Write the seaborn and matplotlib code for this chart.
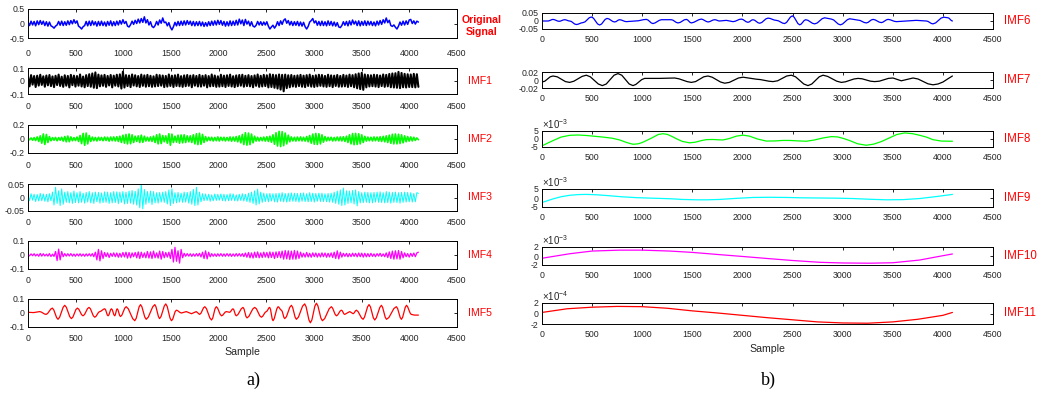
import numpy as np
import matplotlib
matplotlib.use("Agg")
import matplotlib.pyplot as plt
import seaborn as sns

# ---------------------------------------------------------------- data
N_SAMPLES = 4096

# densely sampled components (one value every 16 samples)
original_signal = [
    0.05, -0.07, 0.08, -0.05, 0.07, -0.08, 0.09, -0.04, 0.10, -0.03, 0.08, -0.07, 0.06, -0.09, 0.05, -0.08,
    -0.11, -0.16, -0.09, -0.05, 0.07, -0.06, 0.08, -0.07, 0.06, -0.06, 0.09, -0.04, 0.10, -0.01, 0.13, 0.01,
    0.09, -0.09, -0.13, -0.19, -0.11, -0.07, 0.07, -0.08, 0.08, -0.07, 0.09, -0.05, 0.06, -0.09, 0.07, -0.07,
    0.08, -0.07, 0.05, -0.09, 0.07, -0.06, 0.09, -0.08, 0.06, -0.07, 0.08, -0.05, 0.10, -0.02, 0.13, 0.00,
    0.07, -0.09, -0.12, -0.04, 0.08, -0.03, 0.11, 0.00, 0.15, 0.02, 0.17, 0.04, 0.23, 0.02, 0.13, -0.05,
    0.06, -0.10, -0.14, -0.07, 0.07, -0.05, 0.12, 0.01, 0.19, 0.03, 0.05, -0.08, 0.03, -0.13, -0.22, -0.11,
    0.04, -0.08, 0.07, -0.07, 0.08, -0.06, 0.09, -0.05, 0.10, -0.03, 0.08, -0.07, 0.07, -0.08, 0.06, -0.07,
    0.07, -0.08, 0.05, -0.10, 0.03, -0.09, 0.06, -0.07, 0.08, -0.06, 0.09, -0.05, 0.11, -0.03, 0.10, -0.06,
    0.07, -0.09, 0.06, -0.08, 0.09, -0.07, 0.08, -0.06, 0.11, -0.05, 0.15, -0.01, 0.12, -0.07, 0.14, -0.02,
    0.08, -0.08, 0.06, -0.09, -0.12, -0.06, 0.07, -0.05, 0.06, -0.06, 0.05, -0.05, 0.06, -0.09, -0.19, -0.12,
    -0.06, -0.16, -0.08, 0.06, -0.07, 0.09, -0.03, 0.11, 0.16, 0.01, 0.10, -0.05, 0.07, -0.07, 0.06, -0.06,
    0.07, -0.08, 0.05, -0.09, 0.04, -0.11, -0.19, -0.10, 0.05, 0.10, 0.17, 0.02, 0.09, -0.06, 0.07, -0.07,
    0.08, -0.07, 0.06, -0.08, 0.09, -0.06, 0.07, -0.08, 0.05, -0.09, 0.03, -0.12, -0.14, -0.07, 0.06, -0.06,
    0.07, -0.08, 0.09, -0.05, 0.12, -0.02, 0.08, -0.07, 0.09, -0.08, 0.07, -0.06, 0.09, -0.07, 0.08, -0.05,
    0.07, -0.07, 0.05, -0.08, 0.08, -0.05, 0.10, -0.03, 0.13, 0.02, 0.19, 0.03, 0.11, -0.07, -0.10, -0.05,
    -0.13, -0.19, -0.09, 0.05, -0.06, 0.08, -0.05, 0.09, -0.03, 0.12, 0.14, 0.00, 0.09, -0.02, 0.08, 0.05,
]

imf1 = [
    .032, -.041, .045, -.028, .038, -.046, .041, -.035, .048, -.030, .036, -.044, .042, -.033, .046, -.039,
    .035, -.047, .040, -.031, .049, -.038, .033, -.045, .044, -.036, .039, -.049, .047, -.032, .041, -.043,
    .038, -.036, .050, -.042, .034, -.048, .045, -.039, .052, -.044, .058, -.052, .066, -.055, .049, -.041,
    .043, -.037, .047, -.045, .039, -.034, .046, -.049, .041, -.036, .048, -.042, .051, -.058, .072, -.050,
    .045, -.039, .042, -.047, .050, -.035, .044, -.041, .038, -.046, .049, -.037, .043, -.044, .047, -.040,
    .040, -.045, .036, -.042, .048, -.039, .045, -.036, .042, -.047, .039, -.043, .050, -.038, .041, -.046,
    .044, -.038, .049, -.041, .037, -.045, .043, -.040, .046, -.037, .041, -.048, .045, -.036, .039, -.042,
    .047, -.043, .040, -.036, .045, -.049, .038, -.041, .050, -.039, .042, -.045, .036, -.043, .048, -.040,
    .041, -.046, .044, -.038, .049, -.042, .037, -.047, .043, -.040, .046, -.036, .048, -.044, .040, -.039,
    .045, -.041, .038, -.048, .043, -.037, .050, -.045, .040, -.042, .047, -.039, .044, -.049, .052, -.046,
    .048, -.052, .045, -.058, .050, -.066, .047, -.079, .049, -.055, .044, -.048, .046, -.042, .040, -.045,
    .043, -.039, .047, -.044, .041, -.047, .045, -.038, .049, -.043, .040, -.046, .044, -.041, .048, -.037,
    .046, -.042, .039, -.045, .048, -.040, .043, -.047, .041, -.038, .046, -.044, .039, -.043, .047, -.041,
    .042, -.046, .049, -.040, .045, -.048, .052, -.056, .058, -.062, .063, -.068, .050, -.049, .046, -.042,
    .044, -.040, .048, -.043, .046, -.047, .042, -.039, .050, -.045, .047, -.041, .054, -.048, .058, -.050,
    .060, -.052, .070, -.055, .062, -.048, .055, -.050, .052, -.046, .050, -.047, .055, -.049, .052, -.045,
]

imf2 = [
    .010, -.012, .015, -.018, .020, -.022, .030, -.035, .045, -.060, .072, -.078, .065, -.050, .035, -.025,
    .020, -.018, .022, -.025, .020, -.018, .025, -.030, .035, -.040, .042, -.038, .030, -.025, .020, -.022,
    .028, -.035, .050, -.065, .080, -.090, .085, -.070, .050, -.035, .028, -.025, .022, -.028, .025, -.020,
    .022, -.025, .028, -.022, .025, -.030, .028, -.025, .030, -.028, .032, -.035, .040, -.050, .055, -.060,
    .065, -.070, .072, -.068, .060, -.050, .040, -.035, .045, -.050, .055, -.048, .040, -.030, .025, -.030,
    .030, -.035, .040, -.050, .060, -.070, .072, -.065, .050, -.040, .045, -.060, .075, -.090, .070, -.050,
    .040, -.045, .055, -.060, .058, -.055, .060, -.050, .045, -.040, .045, -.050, .060, -.070, .075, -.080,
    .082, -.075, .065, -.050, .035, -.028, .025, -.022, .025, -.028, .022, -.025, .030, -.028, .025, -.022,
    .025, -.028, .022, -.025, .030, -.032, .028, -.030, .035, -.040, .045, -.055, .065, -.080, .090, -.088,
    .085, -.080, .070, -.055, .040, -.030, .025, -.028, .022, -.025, .028, -.030, .032, -.035, .040, -.045,
    .060, -.075, .090, -.100, .110, -.108, .105, -.095, .085, -.070, .055, -.040, .030, -.028, .025, -.030,
    .028, -.025, .030, -.028, .025, -.030, .035, -.040, .050, -.060, .070, -.075, .080, -.078, .075, -.070,
    .060, -.045, .035, -.028, .025, -.022, .025, -.028, .022, -.025, .028, -.025, .030, -.028, .032, -.035,
    .040, -.050, .060, -.070, .078, -.082, .080, -.078, .075, -.070, .060, -.050, .038, -.030, .028, -.025,
    .025, -.028, .030, -.025, .028, -.030, .032, -.035, .038, -.040, .045, -.050, .055, -.062, .068, -.070,
    .072, -.070, .068, -.065, .060, -.055, .045, -.040, .035, -.030, .030, -.028, .025, -.020, .015, -.010,
]

imf3 = [
    .010, -.012, .014, -.010, .012, -.015, .011, -.013, .015, -.012, .013, -.014, .012, -.016, .014, -.012,
    .020, -.028, .038, -.022, .025, -.030, .032, -.025, .020, -.018, .022, -.020, .018, -.022, .024, -.019,
    .018, -.020, .022, -.018, .016, -.021, .019, -.017, .022, -.020, .018, -.022, .020, -.016, .019, -.021,
    .017, -.019, .021, -.018, .020, -.022, .018, -.020, .022, -.019, .021, -.023, .020, -.018, .022, -.024,
    .020, -.022, .024, -.021, .026, -.025, .023, -.028, .032, -.038, .050, -.042, .030, -.025, .022, -.020,
    .024, -.026, .022, -.020, .018, -.021, .019, -.017, .020, -.018, .022, -.024, .028, -.030, .032, -.022,
    .018, -.020, .019, -.017, .016, -.018, .020, -.017, .019, -.021, .022, -.025, .030, -.030, .038, -.028,
    .020, -.016, .014, -.012, .013, -.011, .012, -.014, .010, -.012, .013, -.011, .012, -.010, .013, -.012,
    .012, -.013, .011, -.012, .014, -.011, .013, -.012, .010, -.013, .012, -.011, .014, -.013, .012, -.015,
    .016, -.018, .020, -.022, .025, -.028, .031, -.024, .020, -.018, .016, -.015, .014, -.016, .015, -.013,
    .014, -.016, .015, -.017, .016, -.014, .018, -.016, .015, -.017, .016, -.015, .017, -.014, .016, -.015,
    .015, -.017, .016, -.014, .017, -.015, .014, -.016, .018, -.015, .016, -.017, .015, -.014, .016, -.015,
    .016, -.015, .014, -.016, .015, -.017, .016, -.018, .020, -.022, .024, -.025, .028, -.030, .035, -.028,
    .025, -.022, .024, -.020, .026, -.024, .028, -.031, .022, -.020, .018, -.019, .020, -.018, .019, -.020,
    .018, -.020, .019, -.017, .020, -.018, .021, -.019, .018, -.020, .022, -.019, .020, -.021, .019, -.018,
    .020, -.019, .018, -.021, .019, -.018, .020, -.017, .019, -.016, .018, -.017, .015, -.016, .018, .015,
]

imf4 = [
    .004, -.006, .008, -.005, .009, -.007, .006, -.009, .011, -.008, .009, -.007, .006, -.008, .010, -.011,
    .006, -.010, .025, -.040, .042, -.035, .025, -.012, .010, -.008, .009, -.007, .010, -.008, .007, -.009,
    .008, -.007, .009, -.008, .007, -.009, .008, -.007, .009, -.008, .010, -.012, .020, -.035, .040, -.042,
    .030, -.025, .018, -.012, .015, -.018, .012, -.010, .015, -.012, .014, -.016, .012, -.015, .018, -.014,
    .020, -.022, .018, -.020, .015, -.012, .018, -.020, .022, -.025, .020, -.018, .015, -.020, .025, -.022,
    .022, -.025, .028, -.020, .015, -.022, .028, -.030, .025, -.020, .018, -.015, .020, -.025, .040, -.050,
    .055, -.045, .030, -.058, .040, -.020, .012, -.009, .010, -.008, .009, -.010, .008, -.009, .010, -.008,
    .012, -.014, .020, -.025, .030, -.028, .020, -.013, .010, -.009, .008, -.010, .009, -.008, .010, -.009,
    .008, -.009, .010, -.008, .009, -.010, .008, -.009, .010, -.008, .010, -.009, .010, -.012, .014, -.016,
    .018, -.020, .015, -.022, .020, -.018, .022, -.020, .015, -.018, .020, -.015, .018, -.020, .022, -.018,
    .020, -.025, .022, -.018, .025, -.020, .028, -.030, .032, -.028, .030, -.032, .028, -.030, .032, -.030,
    .028, -.025, .020, -.015, .012, -.015, .018, -.014, .012, -.016, .015, -.012, .014, -.015, .012, -.014,
    .015, -.012, .014, -.016, .012, -.014, .015, -.018, .020, -.025, .030, -.028, .020, -.015, .012, -.010,
    .012, -.013, .010, -.012, .013, -.010, .012, -.013, .014, -.012, .013, -.015, .012, -.013, .010, -.012,
    .012, -.010, .008, -.012, .010, -.008, .012, -.010, .008, -.012, .015, -.018, .022, -.025, .028, -.030,
    .030, -.028, .032, -.030, .025, -.020, .015, -.012, .010, -.015, .012, -.010, .014, -.012, .015, .020,
]

# slower components: (sample index, value) pairs along the curve
imf5_points = [
    (0, .005), (60, .003), (122, .01), (139, .007), (173, -.007), (190, -.01), (206, -.003), (239, .028),
    (255, .035), (270, .023), (300, -.033), (315, -.045), (332, -.03), (368, .04), (385, .055), (402, .041),
    (438, -.026), (455, -.04), (471, -.029), (502, .024), (518, .035), (533, .027), (562, -.012), (577, -.02),
    (593, -.011), (624, .031), (640, .04), (655, .03), (685, -.02), (700, -.03), (713, -.024), (739, .004),
    (752, .01), (765, .013), (792, .027), (805, .03), (814, .023), (831, -.013), (840, -.02), (849, -.013),
    (866, .023), (875, .03), (884, .023), (901, -.013), (910, -.02), (916, -.013), (929, .023), (935, .03),
    (944, .022), (961, -.017), (970, -.025), (985, -.015), (1015, .035), (1030, .045), (1052, .03),
    (1098, -.04), (1120, -.055), (1135, -.038), (1165, .043), (1180, .06), (1195, .044), (1225, -.029),
    (1240, -.045), (1262, -.029), (1308, .044), (1330, .06), (1342, .045), (1368, -.025), (1380, -.04),
    (1396, -.024), (1429, .049), (1445, .065), (1460, .047), (1490, -.037), (1505, -.055), (1518, -.044),
    (1543, .009), (1556, .02), (1569, .017), (1596, .003), (1610, 0), (1660, .01), (1715, -.005),
    (1765, .01), (1800, -.01), (1814, -.002), (1841, .037), (1855, .045), (1872, .031), (1908, -.036),
    (1925, -.05), (1938, -.036), (1962, .031), (1975, .045), (1989, .035), (2016, -.01), (2030, -.02),
    (2042, -.016), (2068, .006), (2080, .01), (2115, .005), (2124, .009), (2141, .026), (2150, .03),
    (2159, .023), (2176, -.013), (2185, -.02), (2202, -.011), (2238, .031), (2255, .04), (2266, .029),
    (2286, -.024), (2297, -.035), (2317, -.024), (2358, .029), (2378, .04), (2396, .03), (2431, -.02),
    (2448, -.03), (2461, -.024), (2487, .004), (2500, .01), (2509, .015), (2526, .036), (2535, .04),
    (2544, .026), (2561, -.041), (2570, -.055), (2583, -.04), (2610, .03), (2623, .045), (2632, .041),
    (2649, .024), (2658, .02), (2667, .011), (2684, -.031), (2693, -.04), (2711, -.026), (2746, .041),
    (2763, .055), (2776, .04), (2802, -.03), (2815, -.045), (2837, -.029), (2880, .049), (2902, .065),
    (2917, .045), (2947, -.05), (2962, -.07), (2978, -.049), (3009, .049), (3025, .07), (3041, .051),
    (3072, -.036), (3088, -.055), (3112, -.04), (3159, .03), (3182, .045), (3195, .035), (3222, -.01),
    (3235, -.02), (3248, -.014), (3274, .014), (3287, .02), (3296, .016), (3313, -.006), (3322, -.01),
    (3375, .01), (3410, -.005), (3419, -.001), (3436, .016), (3445, .02), (3462, .01), (3498, -.035),
    (3515, -.045), (3530, -.029), (3562, .044), (3577, .06), (3592, .044), (3622, -.034), (3637, -.05),
    (3654, -.034), (3690, .039), (3707, .055), (3720, .04), (3747, -.03), (3760, -.045), (3786, -.032),
    (3838, .032), (3864, .045), (3877, .032), (3904, -.032), (3917, -.045), (3930, -.03), (3957, .04),
    (3970, .055), (3982, .045), (4008, 0), (4020, -.01), (4055, -.015), (4095, -.015),
]

imf6_points = [
    (0, 0), (60, 0), (72, .0015), (98, .0085), (110, .01), (125, .008), (155, 0), (170, -.002),
    (184, -.0005), (212, .0065), (226, .008), (238, .007), (264, .001), (276, 0), (293, -.003),
    (326, -.019), (343, -.022), (360, -.020), (392, -.012), (409, -.01), (430, -.005), (471, .02),
    (492, .025), (513, .018), (554, -.018), (575, -.025), (594, -.019), (630, .010), (649, .016),
    (668, .013), (706, -.003), (725, -.006), (738, -.004), (762, .006), (775, .008), (792, .006),
    (824, -.002), (841, -.004), (935, 0), (962, .0015), (1014, .0085), (1041, .01), (1058, .006),
    (1090, -.012), (1107, -.016), (1128, -.012), (1170, .004), (1191, .008), (1290, .008), (1307, .005),
    (1340, -.009), (1357, -.012), (1378, -.009), (1419, .007), (1440, .01), (1452, .007), (1478, -.009),
    (1490, -.012), (1515, -.008), (1565, .008), (1590, .012), (1606, .009), (1640, -.003), (1656, -.006),
    (1673, -.004), (1706, .006), (1723, .008), (1735, .007), (1760, .001), (1773, 0), (1839, .004),
    (1906, -.004), (1927, -.0016), (1968, .0096), (1989, .012), (2006, .009), (2038, -.005), (2055, -.008),
    (2068, -.0056), (2092, .0056), (2105, .008), (2122, .0047), (2155, -.0107), (2172, -.014),
    (2193, -.0092), (2234, .0132), (2255, .018), (2276, .016), (2317, .006), (2338, .004), (2359, .001),
    (2400, -.013), (2421, -.016), (2440, -.0088), (2479, .0248), (2498, .032), (2516, .0236),
    (2553, -.0156), (2571, -.024), (2586, -.0192), (2616, .0032), (2631, .008), (2654, .0041),
    (2698, -.0141), (2721, -.018), (2746, -.0123), (2795, .0143), (2820, .02), (2887, .012), (2910, .0066),
    (2955, -.0186), (2977, -.024), (3000, -.0183), (3047, .0083), (3070, .014), (3153, .006), (3174, .0033),
    (3215, -.0093), (3236, -.012), (3253, -.0087), (3286, .0067), (3303, .01), (3324, .007), (3365, -.007),
    (3386, -.01), (3402, -.007), (3436, .007), (3452, .01), (3473, .0079), (3515, -.0019), (3536, -.004),
    (3635, 0), (3735, .004), (3835, 0), (3852, -.0027), (3884, -.0153), (3901, -.018), (3928, -.0117),
    (3981, .0177), (4008, .024), (4051, .02), (4062, .017), (4084, .003), (4095, 0),
]

imf7_points = [
    (0, -.005), (28, -.003), (82, .008), (110, .01), (152, .008), (234, -.004), (276, -.006), (318, -.003),
    (400, .009), (442, .012), (482, .008), (562, -.010), (602, -.014), (641, -.01), (719, .012), (758, .016),
    (796, .012), (870, -.01), (908, -.014), (937, -.011), (995, .001), (1024, .004), (1174, .004),
    (1324, .005), (1366, .003), (1448, -.004), (1490, -.006), (1532, -.004), (1614, .008), (1656, .01),
    (1698, .007), (1781, -.005), (1823, -.008), (1869, -.006), (1960, .005), (2006, .007), (2139, .002),
    (2180, .001), (2264, -.003), (2305, -.004), (2351, -.002), (2442, .01), (2488, .012), (2530, .008),
    (2612, -.01), (2654, -.014), (2692, -.01), (2766, .008), (2804, .012), (2850, .009), (2941, -.003),
    (2987, -.006), (3028, -.0045), (3112, .0025), (3153, .004), (3194, .003), (3278, -.003), (3319, -.004),
    (3365, -.003), (3456, .004), (3502, .005), (3585, -.002), (3702, .005), (3752, .0025), (3851, -.0095),
    (3901, -.012), (3951, -.010), (4001, -.005), (4050, .003), (4095, .01),
]

imf8_points = [
    (0, -4.3e-3), (55, -2.6e-3), (110, -1.0e-3), (190, 1.2e-3), (276, 2.3e-3), (360, 2.5e-3),
    (442, 2.2e-3), (525, 1.7e-3), (609, 1.2e-3), (700, 0.5e-3), (775, -0.6e-3), (845, -2.2e-3),
    (908, -3.3e-3), (960, -3.0e-3), (1000, -2.2e-3), (1041, -1.0e-3), (1100, 0.8e-3), (1160, 2.8e-3),
    (1207, 3.3e-3), (1250, 2.9e-3), (1300, 1.5e-3), (1340, 0.2e-3), (1400, -1.5e-3), (1473, -2.4e-3),
    (1530, -2.0e-3), (1590, -1.0e-3), (1640, -0.4e-3), (1700, -0.3e-3), (1760, -0.5e-3), (1806, -0.6e-3),
    (1870, 0.3e-3), (1940, 1.8e-3), (2006, 2.4e-3), (2070, 1.8e-3), (2150, 0.0), (2238, -1.3e-3),
    (2330, -1.2e-3), (2400, -0.9e-3), (2471, -0.9e-3), (2560, -1.2e-3), (2638, -1.4e-3), (2720, -0.6e-3),
    (2800, 0.6e-3), (2887, 1.5e-3), (2950, 1.3e-3), (3010, 0.3e-3), (3070, -1.0e-3), (3150, -3.0e-3),
    (3236, -3.9e-3), (3310, -3.2e-3), (3386, -1.6e-3), (3460, 0.5e-3), (3540, 2.8e-3), (3619, 3.8e-3),
    (3700, 3.3e-3), (3770, 2.3e-3), (3835, 1.2e-3), (3900, -0.4e-3), (3985, -1.3e-3), (4095, -1.4e-3),
]

imf9_points = [
    (0, -2.5e-3), (55, -1.5e-3), (110, -0.5e-3), (190, 0.7e-3), (276, 1.5e-3), (360, 1.9e-3),
    (442, 2.0e-3), (540, 1.8e-3), (642, 1.4e-3), (790, 0.7e-3), (941, 0.2e-3), (1100, -0.1e-3),
    (1274, -0.4e-3), (1400, -0.8e-3), (1540, -1.0e-3), (1650, -1.0e-3), (1773, -0.8e-3), (1940, -0.2e-3),
    (2105, 0.3e-3), (2270, 0.4e-3), (2438, 0.3e-3), (2600, 0.1e-3), (2771, 0.0), (2940, -0.1e-3),
    (3103, -0.3e-3), (3270, -0.7e-3), (3436, -1.0e-3), (3602, -0.9e-3), (3768, -0.3e-3), (3935, 0.8e-3),
    (4095, 2.0e-3),
]

imf10_points = [
    (0, -0.5e-3), (276, 0.5e-3), (500, 1.1e-3), (775, 1.3e-3), (1000, 1.3e-3), (1274, 1.1e-3),
    (1500, 0.8e-3), (1773, 0.3e-3), (2000, -0.1e-3), (2272, -0.6e-3), (2500, -1.0e-3), (2771, -1.4e-3),
    (3000, -1.55e-3), (3270, -1.6e-3), (3500, -1.5e-3), (3768, -0.9e-3), (3935, -0.2e-3), (4095, 0.45e-3),
]

imf11_points = [
    (0, 0.2e-4), (250, 0.9e-4), (500, 1.2e-4), (750, 1.35e-4), (1000, 1.3e-4), (1250, 1.0e-4),
    (1500, 0.5e-4), (1750, 0.1e-4), (2000, -0.35e-4), (2250, -0.8e-4), (2500, -1.2e-4), (2750, -1.6e-4),
    (3000, -1.8e-4), (3250, -1.85e-4), (3500, -1.6e-4), (3750, -1.1e-4), (4000, -0.35e-4), (4095, 0.2e-4),
]

x_ticks = [0, 500, 1000, 1500, 2000, 2500, 3000, 3500, 4000, 4500]

# ---------------------------------------------------------------- style
sns.set_theme(style="white")
plt.rcParams["font.family"] = ["Liberation Sans", "DejaVu Sans"]
plt.rcParams["axes.unicode_minus"] = False
plt.rcParams["mathtext.fontset"] = "custom"
plt.rcParams["mathtext.rm"] = "Liberation Sans"
plt.rcParams["mathtext.it"] = "Liberation Sans"

W, H = 1044, 393
fig = plt.figure(figsize=(W / 100, H / 100), dpi=100)
fig.patch.set_facecolor("white")

TEXT = "#262626"


def px_axes(left, top, right, bottom):
    return fig.add_axes([left / W, 1 - bottom / H, (right - left) / W, (bottom - top) / H])


def panel(box, x, y, color, ylim, yticks, yticklabels, scale=None, xlabel=None,
          lw=0.9, xpad=4.6):
    ax = px_axes(*box)
    sns.lineplot(x=x, y=y, ax=ax, color=color, linewidth=lw,
                 estimator=None, sort=False, legend=False)
    ax.set_xlim(0, 4500)
    ax.set_ylim(*ylim)
    ax.set_xticks(x_ticks)
    ax.set_xticklabels([str(t) for t in x_ticks])
    ax.set_yticks(yticks)
    ax.set_yticklabels(yticklabels)
    ax.tick_params(direction="in", top=True, right=True, length=2.5, width=0.6,
                   labelsize=6.3, color="black", labelcolor=TEXT)
    ax.tick_params(axis="x", pad=xpad)
    ax.tick_params(axis="y", pad=2.5)
    ax.set_ylabel("")
    ax.set_xlabel(xlabel if xlabel else "", fontsize=7.6, color=TEXT, labelpad=3.5)
    for s in ax.spines.values():
        s.set_visible(True)
        s.set_linewidth(0.7)
        s.set_color("black")
    ax.set_facecolor("white")
    if scale:
        ax.text(0.0, 1.02, scale, transform=ax.transAxes, fontsize=7,
                color=TEXT, ha="left", va="bottom")
    return ax


def dense_x(values):
    return np.linspace(0, N_SAMPLES - 1, len(values))


def unzip(points):
    idx, val = zip(*points)
    return list(idx), list(val)


# ---------------------------------------------------------------- left column
L0, L1 = 28, 457
panel((L0, 9, L1, 38), dense_x(original_signal), original_signal, "#0000FF",
      (-0.5, 0.5), [-0.5, 0, 0.5], ["-0.5", "0", "0.5"], lw=1.1, xpad=8)
panel((L0, 68, L1, 94), dense_x(imf1), imf1, "black",
      (-0.1, 0.1), [-0.1, 0, 0.1], ["-0.1", "0", "0.1"], lw=1.5, xpad=6)
panel((L0, 125, L1, 153), dense_x(imf2), imf2, "#00FF00",
      (-0.2, 0.2), [-0.2, 0, 0.2], ["-0.2", "0", "0.2"], lw=1.2, xpad=5.8)
panel((L0, 184, L1, 211), dense_x(imf3), imf3, "#00FFFF",
      (-0.05, 0.05), [-0.05, 0, 0.05], ["-0.05", "0", "0.05"], lw=0.7, xpad=5)
panel((L0, 241, L1, 269), dense_x(imf4), imf4, "#FF00FF",
      (-0.1, 0.1), [-0.1, 0, 0.1], ["-0.1", "0", "0.1"], lw=0.9, xpad=5)
x5, y5 = unzip(imf5_points)
panel((L0, 299, L1, 327), x5, y5, "#FF0000",
      (-0.1, 0.1), [-0.1, 0, 0.1], ["-0.1", "0", "0.1"], xlabel="Sample", xpad=4.7)

# ---------------------------------------------------------------- right column
R0, R1 = 542, 993
x6, y6 = unzip(imf6_points)
panel((R0, 13, R1, 29), x6, y6, "#0000FF",
      (-0.05, 0.05), [-0.05, 0, 0.05], ["-0.05", "0", "0.05"])
x7, y7 = unzip(imf7_points)
panel((R0, 72, R1, 88), x7, y7, "black",
      (-0.02, 0.02), [-0.02, 0, 0.02], ["-0.02", "0", "0.02"])
x8, y8 = unzip(imf8_points)
panel((R0, 131, R1, 147), x8, y8, "#00FF00",
      (-5e-3, 5e-3), [-5e-3, 0, 5e-3], ["-5", "0", "5"], scale=r"$\times10^{-3}$")
x9, y9 = unzip(imf9_points)
panel((R0, 189, R1, 207), x9, y9, "#00FFFF",
      (-5e-3, 5e-3), [-5e-3, 0, 5e-3], ["-5", "0", "5"], scale=r"$\times10^{-3}$")
x10, y10 = unzip(imf10_points)
panel((R0, 247, R1, 265), x10, y10, "#FF00FF",
      (-2e-3, 2e-3), [-2e-3, 0, 2e-3], ["-2", "0", "2"], scale=r"$\times10^{-3}$")
x11, y11 = unzip(imf11_points)
panel((R0, 303, R1, 324), x11, y11, "#FF0000",
      (-2e-4, 2e-4), [-2e-4, 0, 2e-4], ["-2", "0", "2"], scale=r"$\times10^{-4}$", xlabel="Sample")

# ---------------------------------------------------------------- component names
fig.text(482 / W, 1 - 26 / H, "Original\nSignal", color="red", fontsize=7.6,
         fontweight="bold", ha="center", va="center", linespacing=1.3)
for name, yc in [("IMF1", 81), ("IMF2", 139), ("IMF3", 197), ("IMF4", 255), ("IMF5", 313)]:
    fig.text(468 / W, 1 - yc / H, name, color="red", fontsize=7.6, ha="left", va="center")
for name, yc in [("IMF6", 21), ("IMF7", 80), ("IMF8", 139), ("IMF9", 198), ("IMF10", 256), ("IMF11", 313)]:
    fig.text(1004 / W, 1 - yc / H, name, color="red", fontsize=8.3, ha="left", va="center")

# sub-figure tags
fig.text(253 / W, 1 - 380 / H, "a)", fontsize=13, family="Liberation Serif",
         color="black", ha="center", va="center")
fig.text(768 / W, 1 - 380 / H, "b)", fontsize=13, family="Liberation Serif",
         color="black", ha="center", va="center")

fig.savefig("out.png", dpi=100, facecolor="white")
